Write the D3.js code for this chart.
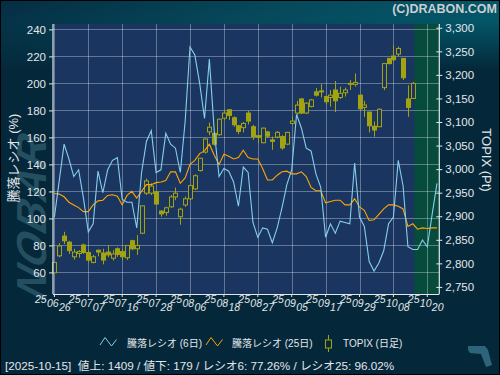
<!DOCTYPE html>
<html><head><meta charset="utf-8">
<script src="https://cdn.jsdelivr.net/npm/d3@7"></script>
<style>
body{margin:0;background:#04283a;overflow:hidden}
svg{display:block}
text{font-family:"Liberation Sans","Noto Sans CJK JP",sans-serif}
</style></head>
<body><svg id="c" width="500" height="375"></svg>
<script>
// ---- data ----
const ratio6 = [101,128,155,144,131,136,115,90,96,135,119,136,143,145,114,112,112,93,134,157,
  165,134,136,163,155,152,134,172,227,221,200,174,218,165,131,137,135,127,109,138,
  134,97,86,93,92,82,93,108,125,136,177,167,152,150,133,123,86,96,89,98,
  97,96,141,101,94,68,61,67,76,96,101,143,124,79,77,77,84,79,103,126];
const ratio25 = [118.5,118,116,112,110,108,105,105,110,113,113.5,117,117.5,116.5,110,117,120,115,120,125,
  125,126.5,127,128,134.5,134.5,126,130,140,143,148,150,155,147,140,147.5,146,144,145,150.5,
  145,144,144,137,128.5,128.5,132,134.5,135,133,133,134.5,131,123,120.5,120.5,111.5,112.5,113.5,113.5,
  110,110,114.5,108.5,106,98.5,99,103,107,110,110,109,107,94,96,92,93,92.5,93,93];
const topixOpen  = [2780,2816,2858,2845,2814,2821,2839,2823,2802,2828,2822,2824,2811,2831,2825,2812,2848,2831,2864,2949,
  2949,2952,2911,2908,2920,2941,2899,2924,2937,2958,2997,3036,3079,3076,3073,3108,3126,3109,3092,3088,
  3119,3090,3071,3056,3079,3062,3068,3069,3053,3097,3119,3149,3119,3133,3164,3166,3154,3152,3168,3152,
  3162,3181,3180,3157,3131,3121,3091,3090,3173,3235,3240,3244,3235,3149,3150];
const topixHigh  = [2803,2843,2867,2848,2831,2828,2842,2828,2818,2829,2831,2839,2828,2834,2831,2839,2850,2860,2923,2980,
  2970,2953,2913,2920,2945,2961,2918,2942,2968,2989,3024,3065,3099,3079,3107,3126,3127,3112,3094,3100,
  3124,3094,3071,3088,3081,3069,3081,3072,3079,3112,3145,3150,3142,3149,3172,3180,3156,3168,3187,3175,
  3173,3189,3203,3158,3145,3122,3101,3129,3224,3236,3263,3260,3236,3178,3185];
const topixLow   = [2779,2813,2841,2820,2808,2812,2820,2802,2800,2815,2798,2813,2806,2814,2807,2807,2828,2818,2862,2945,
  2945,2924,2899,2901,2918,2934,2882,2920,2934,2956,2995,3033,3072,3050,3071,3104,3104,3090,3074,3078,
  3095,3062,3055,3055,3066,3041,3065,3041,3051,3094,3115,3117,3117,3131,3154,3152,3137,3133,3121,3149,
  3154,3168,3175,3127,3111,3078,3069,3089,3168,3222,3229,3240,3189,3111,3149];
const topixClose = [2802,2837,2848,2827,2824,2825,2823,2807,2814,2824,2807,2818,2820,2819,2814,2838,2831,2838,2922,2975,
  2964,2926,2905,2918,2941,2949,2915,2937,2965,2986,3023,3064,3089,3053,3106,3119,3114,3094,3080,3097,
  3102,3069,3068,3087,3070,3059,3078,3045,3078,3102,3136,3119,3140,3147,3157,3165,3143,3157,3145,3161,
  3168,3182,3184,3128,3136,3092,3083,3127,3224,3224,3232,3256,3194,3131,3182];
const xTickIndex = [0,7,14,21,28,35,42,49,56,63,70,77];
const xTickLabels = ["250626","250707","250716","250728","250806","250818","250827","250905","250917","250929","251008","251020"];
const leftTicks = [60,80,100,120,140,160,180,200,220,240];
const rightTicks = [2750,2800,2850,2900,2950,3000,3050,3100,3150,3200,3250,3300];
const futureStart = 74.3;
const legendLabels = ["騰落レシオ (6日)","騰落レシオ (25日)","TOPIX (日足)"];
const footerText = "[2025-10-15]  値上: 1409 / 値下: 179 / レシオ6: 77.26% / レシオ25: 96.02%";

// ---- layout ----
const L = 53, R = 439.3, T = 24, B = 294;
const svg = d3.select("#c");
const x = d3.scaleLinear().domain([0, 77]).range([54.4, 427.3]);
const yL = d3.scaleLinear().domain([44, 244]).range([B, T]);
const yR = d3.scaleLinear().domain([2735, 3308]).range([B, T]);

const defs = svg.append("defs");
const g1 = defs.append("linearGradient").attr("id","hdr").attr("x1","0").attr("y1","0").attr("x2","1").attr("y2","0.35");
g1.append("stop").attr("offset","0").attr("stop-color","#052d42");
g1.append("stop").attr("offset","0.55").attr("stop-color","#064a5c");
g1.append("stop").attr("offset","1").attr("stop-color","#03586a");
const g2 = defs.append("linearGradient").attr("id","fade").attr("x1","0").attr("y1","0").attr("x2","0").attr("y2","1");
g2.append("stop").attr("offset","0").attr("stop-color","#04283a").attr("stop-opacity",0);
g2.append("stop").attr("offset","1").attr("stop-color","#04283a").attr("stop-opacity",1);

svg.append("rect").attr("width",500).attr("height",375).attr("fill","#04283a");
svg.append("rect").attr("width",500).attr("height",70).attr("fill","url(#hdr)");
svg.append("rect").attr("y",20).attr("width",500).attr("height",50).attr("fill","url(#fade)");

// watermark
svg.append("text").attr("transform","translate(46,302) rotate(-90) skewX(-18)")
  .attr("font-size",42).attr("font-weight","bold").attr("font-style","italic")
  .attr("fill","#2f5d6e").attr("fill-opacity",0.75).attr("letter-spacing",2).text("NOBAR");

// plot areas
svg.append("rect").attr("x",L).attr("y",T).attr("width",R-L).attr("height",B-T).attr("fill","#1a3660");
const fx = x(futureStart);
svg.append("rect").attr("x",fx).attr("y",T).attr("width",R-fx).attr("height",B-T).attr("fill","#064b3c");

// grid
const grid = svg.append("g").attr("stroke","#ffffff").attr("stroke-opacity",0.32).attr("stroke-width",1);
leftTicks.forEach(v=>grid.append("line").attr("x1",L).attr("x2",R).attr("y1",Math.round(yL(v))+0.5).attr("y2",Math.round(yL(v))+0.5));
xTickIndex.forEach(i=>grid.append("line").attr("x1",Math.round(x(i))+0.5).attr("x2",Math.round(x(i))+0.5).attr("y1",T).attr("y2",B));

// candles
const col = "#a3a312";
const cg = svg.append("g");
topixOpen.forEach((o,i)=>{
  const c = topixClose[i], h = topixHigh[i], l = topixLow[i];
  const cx = Math.round(x(i))+0.5;
  cg.append("line").attr("x1",cx).attr("x2",cx).attr("y1",yR(h)).attr("y2",yR(l)).attr("stroke",col).attr("stroke-width",1);
  const top = yR(Math.max(o,c)), bot = yR(Math.min(o,c));
  const up = c >= o;
  cg.append("rect").attr("x",cx-2).attr("y",top).attr("width",4).attr("height",Math.max(1,bot-top))
    .attr("fill", up ? "#1a3660" : col).attr("stroke",col).attr("stroke-width",1);
});

// lines
const line = d3.line().x((d,i)=>x(i)).y(d=>yL(d));
svg.append("path").datum(ratio25).attr("d",line).attr("fill","none").attr("stroke","#ffa500").attr("stroke-width",1.1);
svg.append("path").datum(ratio6).attr("d",line).attr("fill","none").attr("stroke","#87ceeb").attr("stroke-width",1.1);

// axes
const txt = "#e2e6ea";
const axL = svg.append("g").attr("transform",`translate(${L},0)`)
  .call(d3.axisLeft(yL).tickValues(leftTicks).tickSize(4).tickPadding(3));
const axR = svg.append("g").attr("transform",`translate(${R},0)`)
  .call(d3.axisRight(yR).tickValues(rightTicks).tickSize(3).tickPadding(3).tickFormat(d3.format(",")));
[axL,axR].forEach(a=>{
  a.select(".domain").attr("stroke",txt).attr("stroke-width",1.2);
  a.selectAll(".tick line").attr("stroke",txt);
  a.selectAll("text").attr("fill",txt).attr("font-size",11.5).attr("font-family","Liberation Sans, sans-serif");
});
axR.selectAll(".tick line").attr("x1",-3);
axL.select(".domain").attr("d",`M0,${T}V${B}`);
axR.select(".domain").attr("d",`M0,${T}V${B}`);

// bottom axis
svg.append("line").attr("x1",L).attr("x2",R).attr("y1",B+0.5).attr("y2",B+0.5).attr("stroke",txt).attr("stroke-width",1.2);
const xa = svg.append("g").attr("fill",txt).attr("font-size",10.5).attr("font-style","italic");
xTickIndex.forEach((idx,k)=>{
  const px = x(idx), s = xTickLabels[k];
  svg.append("line").attr("x1",px).attr("x2",px).attr("y1",B).attr("y2",B+3).attr("stroke",txt);
  xa.append("text").attr("x",px-19.5).attr("y",303.3).text(s.slice(0,2));
  xa.append("text").attr("x",px-7.5).attr("y",306.8).text(s.slice(2,4));
  xa.append("text").attr("x",px+4.5).attr("y",310.8).text(s.slice(4,6));
});

// axis titles
svg.append("text").attr("transform","translate(18,158) rotate(-90)").attr("text-anchor","middle")
  .attr("fill",txt).attr("font-size",13).text("騰落レシオ (%)");
svg.append("text").attr("transform","translate(482,160) rotate(90)").attr("text-anchor","middle")
  .attr("fill",txt).attr("font-size",13).text("TOPIX (Pt)");

// copyright
svg.append("text").attr("x",497).attr("y",13).attr("text-anchor","end").attr("font-weight","bold")
  .attr("font-size",12.5).attr("fill","#c9cfd3").text("(C)DRABON.COM");

// legend
const lg = svg.append("g");
lg.append("polyline").attr("points","100,345 105,337.5 111.5,346 116.5,339.5").attr("fill","none").attr("stroke","#87ceeb");
lg.append("text").attr("x",127).attr("y",346.5).attr("font-size",10).attr("fill",txt).text(legendLabels[0]);
lg.append("polyline").attr("points","206,345 211,337.5 217.5,346 222.5,339.5").attr("fill","none").attr("stroke","#ffa500");
lg.append("text").attr("x",232).attr("y",346.5).attr("font-size",10).attr("fill",txt).text(legendLabels[1]);
lg.append("line").attr("x1",328.5).attr("x2",328.5).attr("y1",335).attr("y2",352).attr("stroke",col);
lg.append("rect").attr("x",325.5).attr("y",340).attr("width",6).attr("height",8).attr("fill","#04283a").attr("stroke",col);
lg.append("text").attr("x",343).attr("y",346.5).attr("font-size",10).attr("fill",txt).text(legendLabels[2]);

// footer
svg.append("text").attr("x",5).attr("y",370).attr("font-size",11.7).attr("fill",txt).attr("xml:space","preserve").text(footerText);

// logo mark
svg.append("path").attr("d","M468,346 L485,346 L488,350 L492,365 L486,367 L481,354 L470,353 L468,350 Z").attr("fill","#2e6479");

// frame
svg.append("rect").attr("x",0.5).attr("y",0.5).attr("width",499).attr("height",374).attr("fill","none").attr("stroke","#000").attr("stroke-width",1);
</script></body></html>
